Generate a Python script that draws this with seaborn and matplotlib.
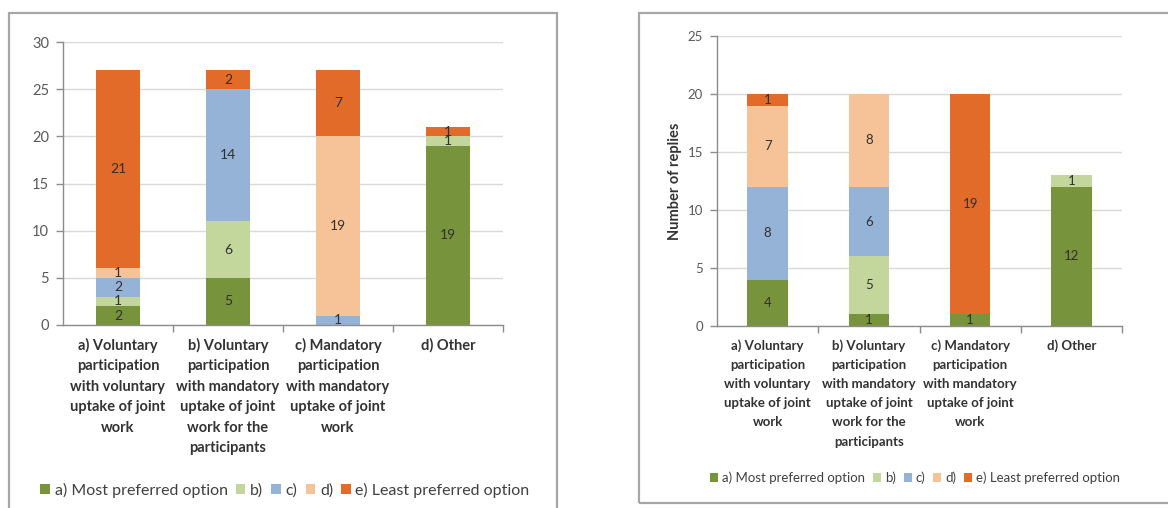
import matplotlib
matplotlib.use("Agg")
import matplotlib.pyplot as plt
from matplotlib.patches import Rectangle, Patch
from matplotlib.ticker import FixedLocator
import numpy as np
import pandas as pd
import seaborn as sns

# Categories and answer options
categories = [
    "a) Voluntary\nparticipation\nwith voluntary\nuptake of joint\nwork",
    "b) Voluntary\nparticipation\nwith mandatory\nuptake of joint\nwork for the\nparticipants",
    "c) Mandatory\nparticipation\nwith mandatory\nuptake of joint\nwork",
    "d) Other",
]
options = ["a) Most preferred option", "b)", "c)", "d)", "e) Least preferred option"]
option_colors = ["#77933C", "#C3D69B", "#95B3D7", "#F6C298", "#E26B2A"]

# Left chart: replies per option (stacked bottom to top a..e)
left_a = [2, 5, 0, 19]
left_b = [1, 6, 0, 1]
left_c = [2, 14, 1, 0]
left_d = [1, 0, 19, 0]
left_e = [21, 2, 7, 1]

# Right chart
right_a = [4, 1, 1, 12]
right_b = [0, 5, 0, 1]
right_c = [8, 6, 0, 0]
right_d = [7, 8, 0, 0]
right_e = [1, 0, 19, 0]

plt.rcParams["font.family"] = ["Lato", "DejaVu Sans"]

W, H = 1168, 508
fig = plt.figure(figsize=(W / 100, H / 100), dpi=100)


def fx(px):
    return px / W


def fy(py):
    return (H - py) / H


def draw_panel(ax, layers, ymax, fs_ytick, fs_cat, fs_val, cat_spacing):
    cums = np.cumsum(np.array(layers, dtype=float), axis=0)
    # Draw cumulative totals from the top layer down so lower layers overlay
    for i in reversed(range(len(layers))):
        d = pd.DataFrame({"category": categories, "height": cums[i]})
        sns.barplot(data=d, x="category", y="height", order=categories,
                    color=option_colors[i], saturation=1, width=0.4,
                    errorbar=None, ax=ax, zorder=2)
    for i, vals in enumerate(layers):
        for j, v in enumerate(vals):
            if v > 0:
                ax.text(j, cums[i][j] - v / 2, str(v), ha="center", va="center",
                        fontsize=fs_val, color="#303030", zorder=3)

    ax.set_xlim(-0.5, 3.5)
    ax.set_ylim(0, ymax)
    ax.set_yticks(range(0, ymax + 1, 5))
    ax.yaxis.grid(True, color="#D9D9D9", linewidth=1.0, zorder=0)
    ax.set_axisbelow(True)
    for s in ["top", "right"]:
        ax.spines[s].set_visible(False)
    for s in ["left", "bottom"]:
        ax.spines[s].set_color("#8C8C8C")
        ax.spines[s].set_linewidth(1.0)
    ax.tick_params(axis="y", length=5, color="#8C8C8C", width=1.0,
                   labelsize=fs_ytick, labelcolor="#595959", pad=5)
    ax.tick_params(axis="x", which="major", length=0, labelbottom=False)
    ax.xaxis.set_minor_locator(FixedLocator([0.5, 1.5, 2.5, 3.5]))
    ax.tick_params(axis="x", which="minor", length=5, color="#8C8C8C", width=1.0)
    # Category names, wrapped over several lines under each bar
    for j, cat in enumerate(categories):
        ax.annotate(cat, xy=(j, 0), xycoords=("data", "axes fraction"),
                    xytext=(0, -13), textcoords="offset pixels",
                    ha="center", va="top", fontsize=fs_cat, fontweight="bold",
                    color="#333333", linespacing=cat_spacing)
    ax.set_xlabel("")
    ax.set_ylabel("")


# Panel frames
fig.add_artist(Rectangle((fx(9), -0.02), fx(557) - fx(9), fy(13) + 0.02,
                         transform=fig.transFigure, fill=False,
                         edgecolor="#A6A6A6", linewidth=1.6))
fig.add_artist(Rectangle((fx(639), fy(503)), fx(1180) - fx(639), fy(13) - fy(503),
                         transform=fig.transFigure, fill=False,
                         edgecolor="#A6A6A6", linewidth=1.6))

ax1 = fig.add_axes([fx(63), fy(325), fx(503) - fx(63), fy(42) - fy(325)])
draw_panel(ax1, [left_a, left_b, left_c, left_d, left_e], 30,
           fs_ytick=10.5, fs_cat=10.5, fs_val=10, cat_spacing=1.58)

ax2 = fig.add_axes([fx(717), fy(326), fx(1122) - fx(717), fy(36) - fy(326)])
draw_panel(ax2, [right_a, right_b, right_c, right_d, right_e], 25,
           fs_ytick=9.5, fs_cat=9.5, fs_val=9.5, cat_spacing=1.72)
ax2.set_ylabel("Number of replies", fontsize=10.5, fontweight="bold",
               color="#333333", labelpad=4)

handles = [Patch(facecolor=c, edgecolor="none", label=l)
           for c, l in zip(option_colors, options)]
fig.legend(handles=handles, loc="center", bbox_to_anchor=(fx(285), fy(490)),
           ncol=5, frameon=False, fontsize=11.5, handlelength=0.6,
           handleheight=0.6, handletextpad=0.3, columnspacing=0.5,
           labelcolor="#404040")
fig.legend(handles=handles, loc="center", bbox_to_anchor=(fx(915), fy(478)),
           ncol=5, frameon=False, fontsize=9.5, handlelength=0.6,
           handleheight=0.6, handletextpad=0.3, columnspacing=0.6,
           labelcolor="#404040")

fig.savefig("out.png", dpi=100)
